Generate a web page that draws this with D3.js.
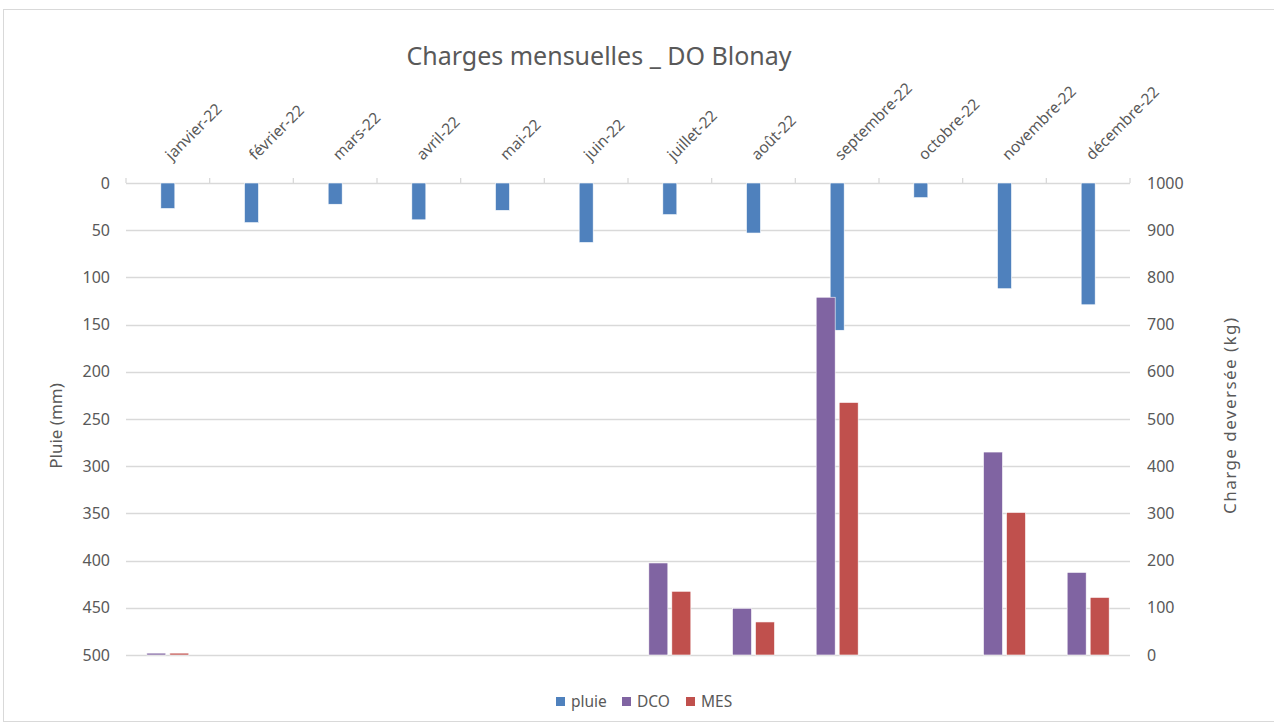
<!DOCTYPE html>
<html><head><meta charset="utf-8">
<script src="https://cdn.jsdelivr.net/npm/d3@7"></script>
<style>body{margin:0;background:#fff;} text{font-family:"Noto Sans",sans-serif;fill:#595959;}</style>
</head><body>
<svg id="c" width="1274" height="724"></svg>
<script>
const months = ["janvier-22","février-22","mars-22","avril-22","mai-22","juin-22","juillet-22","août-22","septembre-22","octobre-22","novembre-22","décembre-22"];
const pluie = [27, 42, 22.5, 39, 29, 63, 33.5, 53, 156, 15.5, 112, 129];
const dco = [4, 0, 0, 0, 0, 0, 195, 99, 758, 0, 430, 175];
const mes = [4, 0, 0, 0, 0, 0, 135, 70, 535, 0, 302, 122];
const leftTicks = [0,50,100,150,200,250,300,350,400,450,500];
const rightTicks = [0,100,200,300,400,500,600,700,800,900,1000];
const title = "Charges mensuelles _ DO Blonay";
const leftTitle = "Pluie (mm)";
const rightTitle = "Charge deversée (kg)";
const seriesNames = ["pluie","DCO","MES"];
const colors = ["#4f81bd","#8064a2","#c0504d"];

const svg = d3.select("#c");
svg.append("rect").attr("x",3.5).attr("y",9.5).attr("width",1290).attr("height",712)
  .attr("fill","#fff").attr("stroke","#d9d9d9");

const L=126, R=1130, T=183, B=655;
const x = d3.scaleBand().domain(months).range([L,R]);
const yL = d3.scaleLinear().domain([0,500]).range([T,B]);
const yR = d3.scaleLinear().domain([0,1000]).range([B,T]);

// gridlines
svg.append("g").selectAll("line").data(leftTicks).join("line")
  .attr("x1",L).attr("x2",R).attr("y1",d=>Math.round(yL(d))+0.5).attr("y2",d=>Math.round(yL(d))+0.5)
  .attr("stroke","#d9d9d9").attr("stroke-width",1.3);
// top axis tick marks
svg.append("g").selectAll("line").data(d3.range(13)).join("line")
  .attr("x1",i=>L+i*x.step()).attr("x2",i=>L+i*x.step())
  .attr("y1",T-5).attr("y2",T).attr("stroke","#d9d9d9").attr("stroke-width",1.3);

// left axis labels
svg.append("g").selectAll("text").data(leftTicks).join("text")
  .attr("x",110).attr("y",d=>yL(d)).attr("dy","0.35em").attr("text-anchor","end")
  .attr("font-size",16).text(d=>d);
// right axis labels
svg.append("g").selectAll("text").data(rightTicks).join("text")
  .attr("x",1147).attr("y",d=>yR(d)).attr("dy","0.35em").attr("text-anchor","start")
  .attr("font-size",16).text(d=>d);

// month labels
svg.append("g").selectAll("text").data(months).join("text")
  .attr("transform",d=>`translate(${x(d)+x.bandwidth()/2+4},${T-22}) rotate(-45)`)
  .attr("text-anchor","start").attr("font-size",15.5).text(d=>d);

// pluie bars
const pw = 14;
svg.append("g").selectAll("rect").data(pluie).join("rect")
  .attr("x",(d,i)=>x(months[i])+x.bandwidth()/2-pw/2).attr("width",pw)
  .attr("y",yL(0)).attr("height",d=>yL(d)-yL(0))
  .attr("fill",colors[0]).attr("stroke","#fff").attr("stroke-width",0.6);

// DCO / MES
const bw = 19, gap = 4;
svg.append("g").selectAll("rect").data(dco).join("rect")
  .attr("x",(d,i)=>x(months[i])+x.bandwidth()/2-gap/2-bw).attr("width",bw)
  .attr("y",d=>yR(d)).attr("height",d=>yR(0)-yR(d))
  .attr("fill",colors[1]).attr("stroke","#fff").attr("stroke-width",0.6);
svg.append("g").selectAll("rect").data(mes).join("rect")
  .attr("x",(d,i)=>x(months[i])+x.bandwidth()/2+gap/2).attr("width",bw)
  .attr("y",d=>yR(d)).attr("height",d=>yR(0)-yR(d))
  .attr("fill",colors[2]).attr("stroke","#fff").attr("stroke-width",0.6);

// titles
svg.append("text").attr("x",599).attr("y",65).attr("text-anchor","middle")
  .attr("font-size",25).text(title);
svg.append("text").attr("transform","translate(62,426) rotate(-90)").attr("text-anchor","middle")
  .attr("font-size",17).text(leftTitle);
svg.append("text").attr("transform","translate(1236,416) rotate(-90)").attr("text-anchor","middle")
  .attr("font-size",17).attr("textLength",196).attr("lengthAdjust","spacing").text(rightTitle);

// legend
const lx = [556, 622, 686];
const lg = svg.append("g");
seriesNames.forEach((n,i)=>{
  lg.append("rect").attr("x",lx[i]).attr("y",697).attr("width",9).attr("height",9).attr("fill",colors[i]);
  lg.append("text").attr("x",lx[i]+15).attr("y",702).attr("dy","0.35em").attr("font-size",15.5).text(n);
});
</script>
</body></html>
